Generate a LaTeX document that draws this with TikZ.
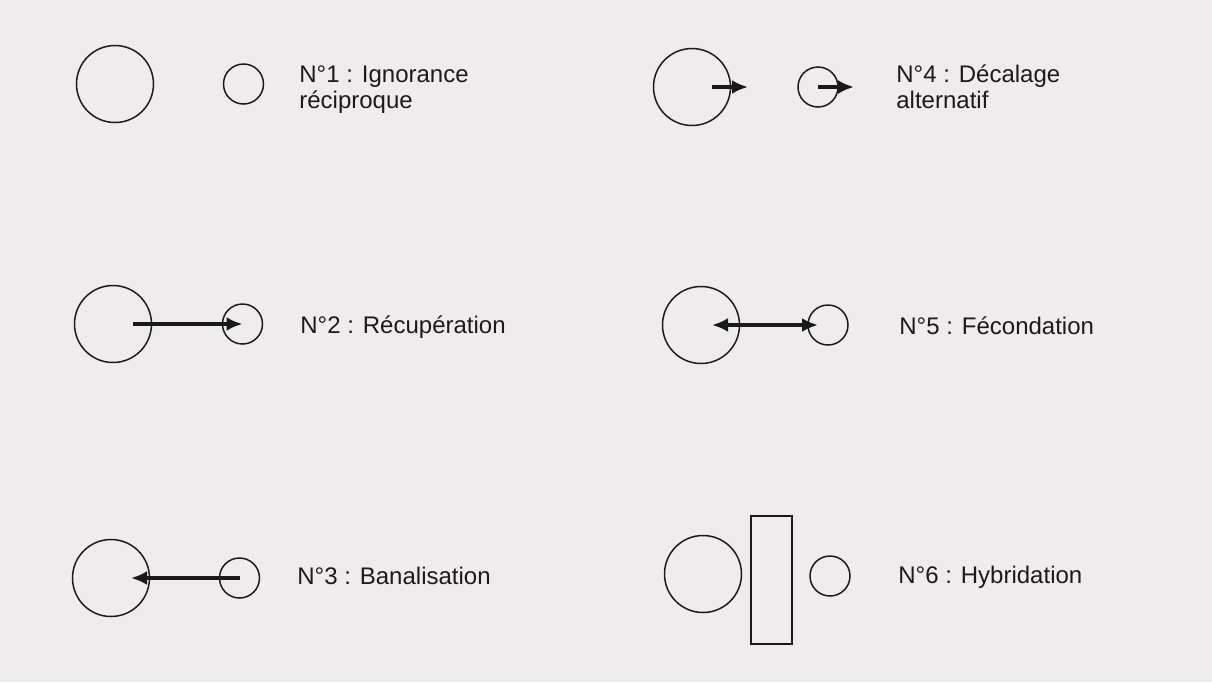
\documentclass[tikz,border=0pt]{standalone}
\usepackage{fontspec}
\setmainfont{Liberation Sans}
\usepackage{tikz}
\usetikzlibrary{positioning, arrows.meta, shapes}
\definecolor{paper}{RGB}{239,236,237}
\definecolor{ink}{RGB}{30,26,28}
\tikzset{
    every node/.style={inner sep=0pt},
    lbl/.style={ % Sets the properties for each caption
        text=ink,
        font=\fontsize{12}{12.75}\selectfont,
        anchor=base west, % for two lines: baseline of the last one
        align=left
    }
}

\begin{document}
\begin{tikzpicture}[x=0.5pt,y=-0.5pt]
        \tikzset{
            big/.style={draw=ink,circle,line width=.75pt,minimum size=38.5pt},
            small/.style={draw=ink,circle,line width=.75pt,minimum size=20pt},
            bar/.style={draw=ink,rectangle,line width=.75pt,minimum width=20.5pt,minimum height=64pt},
            %
            arr/.style={-{Latex[length=8pt,width=7pt]},line width=2.2pt,black!90},
            darr/.style={{Latex[length=8pt,width=7pt]}-{Latex[length=8pt,width=7pt]},line width=2.2pt,black!90},
        }
        \fill[paper] (0,0) rectangle (1212,682);
        \useasboundingbox (0,0) rectangle (1212,682);
        % left column
        \node[big] (b1) at (115,84) {};
        \node[small,right=34.25pt of b1] (s1) {};
        \node[lbl] (t1) at (299,108) {N°1 : Ignorance\\réciproque};

        \node[big] (b2) at (113,324) {};
        \node[small,right=34.75pt of b2] (s2) {};
        \node[lbl] (t2) at (300,333) {N°2 : Récupération};
        \draw[arr] ([xshift=10pt]b2.center) -- (s2.center);

        \node[big] (b3) at (111,578) {};
        \node[small,right=34.25pt of b3] (s3) {};
        \node[lbl] (t3) at (297,584) {N°3 : Banalisation};
        \draw[arr] (s3.center) -- ([xshift=10pt]b3.center);

        % right column
        \node[big] (b4) at (692,87) {};
        \node[small,right=33pt of b4] (s4) {};
        \node[lbl] (t4) at (896,108) {N°4 : Décalage\\alternatif};
        \draw[arr] ([xshift=10pt]b4.center) -- ([xshift=28pt]b4.center);
        \draw[arr] (s4.center) -- ([xshift=18pt]s4.center);

        \node[big] (b5) at (701,325) {};
        \node[small,right=33.5pt of b5] (s5) {};
        \node[lbl] (t5) at (899,334) {N°5 : Fécondation};
        \draw[darr] ([xshift=5.5pt]b5.center) -- ([xshift=-5pt]s5.center);

        \node[big] (b6) at (703,574) {};
        \node[bar] (r6) at (771.5,580) {};
        \node[small] (s6) at (830,576) {};
        \node[lbl] (t6) at (898,583) {N°6 : Hybridation};
\end{tikzpicture}
\end{document}
